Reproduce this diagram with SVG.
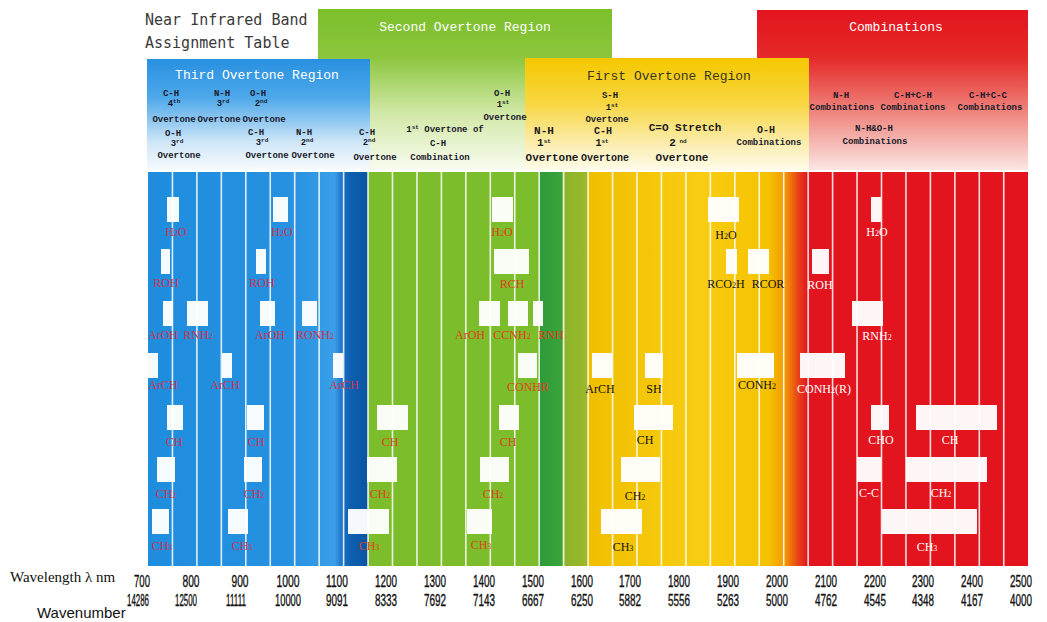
<svg xmlns="http://www.w3.org/2000/svg" width="1047" height="622" viewBox="0 0 1047 622">
<defs>
<linearGradient id="body" gradientUnits="userSpaceOnUse" x1="148" y1="0" x2="1028" y2="0">
<stop offset="0" stop-color="#1f8ddd"/>
<stop offset="0.16" stop-color="#2591e0"/>
<stop offset="0.212" stop-color="#3a9fe8"/>
<stop offset="0.2215" stop-color="#1a70c2"/>
<stop offset="0.23" stop-color="#0e5fb0"/>
<stop offset="0.249" stop-color="#0a55a4"/>
<stop offset="0.2502" stop-color="#7bbd2a"/>
<stop offset="0.4437" stop-color="#7cbd2c"/>
<stop offset="0.4455" stop-color="#2e9c3a"/>
<stop offset="0.4699" stop-color="#3aa33a"/>
<stop offset="0.4716" stop-color="#8cb32c"/>
<stop offset="0.4983" stop-color="#9ab82a"/>
<stop offset="0.5002" stop-color="#f0bf00"/>
<stop offset="0.63" stop-color="#f8cd12"/>
<stop offset="0.705" stop-color="#f5c200"/>
<stop offset="0.724" stop-color="#f29800"/>
<stop offset="0.739" stop-color="#e8421a"/>
<stop offset="0.75" stop-color="#e2141e"/>
<stop offset="1" stop-color="#e3141e"/>
</linearGradient>
<linearGradient id="gGreen" x1="0" y1="0" x2="0" y2="1">
<stop offset="0" stop-color="#7cbf2a"/>
<stop offset="0.3" stop-color="#8cc63e"/>
<stop offset="0.65" stop-color="#d2e8a8"/>
<stop offset="1" stop-color="#f8fcef"/>
</linearGradient>
<linearGradient id="gBlue" x1="0" y1="0" x2="0" y2="1">
<stop offset="0" stop-color="#2890e0"/>
<stop offset="0.35" stop-color="#4ea8ea"/>
<stop offset="0.75" stop-color="#cfe6f7"/>
<stop offset="1" stop-color="#f6fbfe"/>
</linearGradient>
<linearGradient id="gYellow" x1="0" y1="0" x2="0" y2="1">
<stop offset="0" stop-color="#f5c800"/>
<stop offset="0.4" stop-color="#f8d640"/>
<stop offset="0.8" stop-color="#fcefb8"/>
<stop offset="1" stop-color="#fffbe8"/>
</linearGradient>
<linearGradient id="gRed" x1="0" y1="0" x2="0" y2="1">
<stop offset="0" stop-color="#e3141e"/>
<stop offset="0.3" stop-color="#e52a2a"/>
<stop offset="0.62" stop-color="#ee8078"/>
<stop offset="1" stop-color="#fbe6e3"/>
</linearGradient>
</defs>
<style>
.tt{font-family:"DejaVu Sans Mono","Liberation Mono",monospace;font-size:15px;fill:#3a3a3a}
.rt{font-family:"Liberation Mono",monospace;font-size:13px;fill:#ffffff;text-anchor:middle}
.rtd{font-family:"Liberation Mono",monospace;font-size:13px;fill:#3a3520;text-anchor:middle}
.h9{font-family:"Liberation Mono",monospace;font-weight:bold;font-size:9px;fill:#1a1a2a;text-anchor:middle}
.h10{font-family:"Liberation Mono",monospace;font-weight:bold;font-size:10px;fill:#1a1a1a;text-anchor:middle}
.h11{font-family:"Liberation Mono",monospace;font-weight:bold;font-size:11px;fill:#1a1a1a;text-anchor:middle}
.sup{font-size:6px}
.bx{fill:#ffffff;opacity:0.96}
.lb{font-family:"Liberation Serif",serif;font-size:12px;text-anchor:middle}
.lb .sb{font-size:8px}
.cb{fill:#d2334f}
.cg{fill:#e0401a}
.cy{fill:#111111}
.cr{fill:#ffffff}
.grid line{stroke:#ffffff;stroke-width:1.6;opacity:0.85}
.ax{font-family:"Liberation Sans",sans-serif;font-size:16px;fill:#111;stroke:#111;stroke-width:0.35;text-anchor:middle}
.axl{font-family:"Liberation Serif",serif;font-size:15px;fill:#111}
.axw{font-family:"Liberation Sans",sans-serif;font-size:15px;fill:#111}
</style>
<rect width="1047" height="622" fill="#ffffff"/>

<!-- header boxes -->
<g id="hdr-second">
<rect x="318" y="9" width="294" height="161" fill="url(#gGreen)"/>
<text class="rt" x="465" y="31">Second Overtone Region</text>
</g>
<g id="hdr-combinations">
<rect x="757" y="10" width="271" height="160" fill="url(#gRed)"/>
<text class="rt" x="896" y="31">Combinations</text>
</g>
<g id="hdr-third">
<rect x="147" y="59" width="223" height="111" fill="url(#gBlue)"/>
<text class="rt" x="257" y="79">Third Overtone Region</text>
</g>
<g id="hdr-first">
<rect x="525" y="58" width="284" height="112" fill="url(#gYellow)"/>
<text class="rtd" x="669" y="80">First Overtone Region</text>
</g>

<g id="title">
<text class="tt" x="145" y="25">Near Infrared Band</text>
<text class="tt" x="145" y="48">Assignment Table</text>
</g>

<!-- header assignment labels -->
<g id="hdr-labels">
<text class="h9" x="171" y="96">C-H</text>
<text class="h9" x="174" y="106">4<tspan class="sup" dy="-3">th</tspan></text>
<text class="h9" x="222" y="96">N-H</text>
<text class="h9" x="223" y="106">3<tspan class="sup" dy="-3">rd</tspan></text>
<text class="h9" x="258" y="96">O-H</text>
<text class="h9" x="261" y="106">2<tspan class="sup" dy="-3">nd</tspan></text>
<text class="h9" x="174" y="122">Overtone</text>
<text class="h9" x="219" y="122">Overtone</text>
<text class="h9" x="264" y="122">Overtone</text>
<text class="h9" x="173" y="136">O-H</text>
<text class="h9" x="177" y="146">3<tspan class="sup" dy="-3">rd</tspan></text>
<text class="h9" x="179" y="158">Overtone</text>
<text class="h9" x="256" y="135">C-H</text>
<text class="h9" x="262" y="145">3<tspan class="sup" dy="-3">rd</tspan></text>
<text class="h9" x="267" y="158">Overtone</text>
<text class="h9" x="304" y="135">N-H</text>
<text class="h9" x="307" y="145">2<tspan class="sup" dy="-3">nd</tspan></text>
<text class="h9" x="313" y="158">Overtone</text>
<text class="h9" x="367" y="135">C-H</text>
<text class="h9" x="369" y="145">2<tspan class="sup" dy="-3">nd</tspan></text>
<text class="h9" x="375" y="160">Overtone</text>
<text class="h9" x="445" y="132">1<tspan class="sup" dy="-3">st</tspan><tspan dy="3"> Overtone of</tspan></text>
<text class="h9" x="438" y="146">C-H</text>
<text class="h9" x="440" y="160">Combination</text>
<text class="h9" x="502" y="96">O-H</text>
<text class="h9" x="503" y="107">1<tspan class="sup" dy="-3">st</tspan></text>
<text class="h9" x="505" y="120">Overtone</text>

<text class="h9" x="610" y="98">S-H</text>
<text class="h9" x="612" y="110">1<tspan class="sup" dy="-3">st</tspan></text>
<text class="h9" x="607" y="122">Overtone</text>
<text class="h11" x="544" y="134">N-H</text>
<text class="h11" x="544" y="146">1<tspan class="sup" dy="-3">st</tspan></text>
<text class="h11" x="552" y="161">Overtone</text>
<text class="h10" x="603" y="134">C-H</text>
<text class="h10" x="602" y="146">1<tspan class="sup" dy="-3">st</tspan></text>
<text class="h10" x="605" y="161">Overtone</text>
<text class="h11" x="685" y="131">C=O Stretch</text>
<text class="h11" x="678" y="146">2<tspan class="sup" dy="-3"> nd</tspan></text>
<text class="h11" x="682" y="161">Overtone</text>
<text class="h10" x="766" y="133">O-H</text>
<text class="h9" x="769" y="145">Combinations</text>

<text class="h9" x="841" y="98">N-H</text>
<text class="h9" x="842" y="110">Combinations</text>
<text class="h9" x="913" y="98">C-H+C-H</text>
<text class="h9" x="913" y="110">Combinations</text>
<text class="h9" x="988" y="98">C-H+C-C</text>
<text class="h9" x="990" y="110">Combinations</text>
<text class="h9" x="874" y="131">N-H&amp;O-H</text>
<text class="h9" x="875" y="144">Combinations</text>
</g>

<!-- body band -->
<rect id="band" x="148" y="172" width="880" height="394" fill="url(#body)"/>
<g id="connectors" class="grid">
<line x1="172.45" y1="172" x2="172.45" y2="566"/><line x1="196.9" y1="172" x2="196.9" y2="566"/><line x1="221.35" y1="172" x2="221.35" y2="566"/><line x1="245.8" y1="172" x2="245.8" y2="566"/><line x1="270.25" y1="172" x2="270.25" y2="566"/><line x1="294.7" y1="172" x2="294.7" y2="566"/><line x1="319.15" y1="172" x2="319.15" y2="566"/><line x1="343.6" y1="172" x2="343.6" y2="566"/><line x1="368.05" y1="172" x2="368.05" y2="566"/><line x1="392.5" y1="172" x2="392.5" y2="566"/><line x1="416.95" y1="172" x2="416.95" y2="566"/><line x1="441.4" y1="172" x2="441.4" y2="566"/><line x1="465.85" y1="172" x2="465.85" y2="566"/><line x1="490.3" y1="172" x2="490.3" y2="566"/><line x1="514.75" y1="172" x2="514.75" y2="566"/><line x1="539.2" y1="172" x2="539.2" y2="566"/><line x1="563.65" y1="172" x2="563.65" y2="566"/><line x1="588.1" y1="172" x2="588.1" y2="566"/><line x1="612.55" y1="172" x2="612.55" y2="566"/><line x1="637" y1="172" x2="637" y2="566"/><line x1="661.45" y1="172" x2="661.45" y2="566"/><line x1="685.9" y1="172" x2="685.9" y2="566"/><line x1="710.35" y1="172" x2="710.35" y2="566"/><line x1="734.8" y1="172" x2="734.8" y2="566"/><line x1="759.25" y1="172" x2="759.25" y2="566"/><line x1="783.7" y1="172" x2="783.7" y2="566"/><line x1="808.15" y1="172" x2="808.15" y2="566"/><line x1="832.6" y1="172" x2="832.6" y2="566"/><line x1="857.05" y1="172" x2="857.05" y2="566"/><line x1="881.5" y1="172" x2="881.5" y2="566"/><line x1="905.95" y1="172" x2="905.95" y2="566"/><line x1="930.4" y1="172" x2="930.4" y2="566"/><line x1="954.85" y1="172" x2="954.85" y2="566"/><line x1="979.3" y1="172" x2="979.3" y2="566"/><line x1="1003.75" y1="172" x2="1003.75" y2="566"/>
</g>

<!-- blue region nodes -->
<g id="b-h2o-1"><rect class="bx" x="167" y="197" width="12" height="25"/><text class="lb cb" x="176" y="236">H<tspan class="sb">2</tspan>O</text></g>
<g id="b-h2o-2"><rect class="bx" x="273" y="197" width="15" height="25"/><text class="lb cb" x="282" y="236">H<tspan class="sb">2</tspan>O</text></g>
<g id="b-roh-1"><rect class="bx" x="161" y="249" width="9" height="25"/><text class="lb cb" x="166" y="287">ROH</text></g>
<g id="b-roh-2"><rect class="bx" x="256" y="249" width="10" height="25"/><text class="lb cb" x="262" y="287">ROH</text></g>
<g id="b-aroh-1"><rect class="bx" x="163" y="301" width="10" height="25"/><text class="lb cb" x="163" y="339">ArOH</text></g>
<g id="b-rnh2"><rect class="bx" x="187" y="301" width="21" height="25"/><text class="lb cb" x="198" y="339">RNH<tspan class="sb">2</tspan></text></g>
<g id="b-aroh-2"><rect class="bx" x="260" y="301" width="15" height="25"/><text class="lb cb" x="270" y="339">ArOH</text></g>
<g id="b-ronh2"><rect class="bx" x="302" y="301" width="15" height="25"/><text class="lb cb" x="315" y="339">RONH<tspan class="sb">2</tspan></text></g>
<g id="b-arch-1"><rect class="bx" x="148" y="353" width="10" height="25"/><text class="lb cb" x="163" y="389">ArCH</text></g>
<g id="b-arch-2"><rect class="bx" x="222" y="353" width="10" height="25"/><text class="lb cb" x="225" y="389">ArCH</text></g>
<g id="b-arch-3"><rect class="bx" x="333" y="353" width="10" height="25"/><text class="lb cb" x="344" y="389">ArCH</text></g>
<g id="b-ch-1"><rect class="bx" x="167" y="405" width="16" height="25"/><text class="lb cb" x="174" y="446">CH</text></g>
<g id="b-ch-2"><rect class="bx" x="247" y="405" width="17" height="25"/><text class="lb cb" x="256" y="446">CH</text></g>
<g id="b-ch2-1"><rect class="bx" x="157" y="457" width="18" height="25"/><text class="lb cb" x="166" y="498">CH<tspan class="sb">2</tspan></text></g>
<g id="b-ch2-2"><rect class="bx" x="244" y="457" width="18" height="25"/><text class="lb cb" x="254" y="498">CH<tspan class="sb">2</tspan></text></g>
<g id="b-ch3-1"><rect class="bx" x="152" y="509" width="17" height="25"/><text class="lb cb" x="162" y="550">CH<tspan class="sb">3</tspan></text></g>
<g id="b-ch3-2"><rect class="bx" x="228" y="509" width="20" height="25"/><text class="lb cb" x="242" y="550">CH<tspan class="sb">3</tspan></text></g>

<!-- green region nodes -->
<g id="g-ch3-1"><rect class="bx" x="348" y="509" width="41" height="25"/><text class="lb cg" x="369" y="550">CH<tspan class="sb">3</tspan></text></g>
<g id="g-ch2-1"><rect class="bx" x="367" y="457" width="30" height="25"/><text class="lb cg" x="380" y="498">CH<tspan class="sb">2</tspan></text></g>
<g id="g-ch-1"><rect class="bx" x="377" y="405" width="31" height="25"/><text class="lb cg" x="390" y="446">CH</text></g>
<g id="g-h2o"><rect class="bx" x="492" y="197" width="21" height="25"/><text class="lb cg" x="502" y="236">H<tspan class="sb">2</tspan>O</text></g>
<g id="g-rch"><rect class="bx" x="494" y="249" width="35" height="25"/><text class="lb cg" x="512" y="288">RCH</text></g>
<g id="g-aroh"><rect class="bx" x="479" y="301" width="21" height="25"/><text class="lb cg" x="470" y="339">ArOH</text></g>
<g id="g-ccnh2"><rect class="bx" x="508" y="301" width="20" height="25"/><text class="lb cg" x="512" y="339">CCNH<tspan class="sb">2</tspan></text></g>
<g id="g-rnh"><rect class="bx" x="533" y="301" width="10" height="25"/><text class="lb cg" x="551" y="339">RNH</text></g>
<g id="g-conhr"><rect class="bx" x="518" y="353" width="19" height="25"/><text class="lb cg" x="528" y="391">CONHR</text></g>
<g id="g-ch-2"><rect class="bx" x="499" y="405" width="20" height="25"/><text class="lb cg" x="508" y="446">CH</text></g>
<g id="g-ch2-2"><rect class="bx" x="480" y="457" width="29" height="25"/><text class="lb cg" x="493" y="498">CH<tspan class="sb">2</tspan></text></g>
<g id="g-ch3-2"><rect class="bx" x="467" y="509" width="25" height="25"/><text class="lb cg" x="481" y="549">CH<tspan class="sb">3</tspan></text></g>

<!-- yellow region nodes -->
<g id="y-h2o"><rect class="bx" x="708" y="197" width="31" height="25"/><text class="lb cy" x="726" y="239">H<tspan class="sb">2</tspan>O</text></g>
<g id="y-rco2h"><rect class="bx" x="726" y="249" width="11" height="25"/><text class="lb cy" x="726" y="288">RCO<tspan class="sb">2</tspan>H</text></g>
<g id="y-rcor"><rect class="bx" x="748" y="249" width="21" height="25"/><text class="lb cy" x="768" y="288">RCOR</text></g>
<g id="y-arch"><rect class="bx" x="592" y="353" width="20" height="25"/><text class="lb cy" x="600" y="393">ArCH</text></g>
<g id="y-sh"><rect class="bx" x="645" y="353" width="18" height="25"/><text class="lb cy" x="654" y="393">SH</text></g>
<g id="y-conh2"><rect class="bx" x="737" y="353" width="37" height="25"/><text class="lb cy" x="757" y="389">CONH<tspan class="sb">2</tspan></text></g>
<g id="y-ch"><rect class="bx" x="634" y="405" width="39" height="25"/><text class="lb cy" x="645" y="444">CH</text></g>
<g id="y-ch2"><rect class="bx" x="621" y="457" width="39" height="25"/><text class="lb cy" x="635" y="500">CH<tspan class="sb">2</tspan></text></g>
<g id="y-ch3"><rect class="bx" x="601" y="509" width="41" height="25"/><text class="lb cy" x="623" y="551">CH<tspan class="sb">3</tspan></text></g>

<!-- red region nodes -->
<g id="r-h2o"><rect class="bx" x="871" y="197" width="10" height="25"/><text class="lb cr" x="877" y="236">H<tspan class="sb">2</tspan>O</text></g>
<g id="r-roh"><rect class="bx" x="812" y="249" width="17" height="25"/><text class="lb cr" x="820" y="289">ROH</text></g>
<g id="r-rnh2"><rect class="bx" x="852" y="301" width="31" height="25"/><text class="lb cr" x="877" y="340">RNH<tspan class="sb">2</tspan></text></g>
<g id="r-conh2r"><rect class="bx" x="800" y="353" width="45" height="25"/><text class="lb cr" x="824" y="393">CONH<tspan class="sb">2</tspan>(R)</text></g>
<g id="r-cho"><rect class="bx" x="871" y="405" width="18" height="25"/><text class="lb cr" x="881" y="444">CHO</text></g>
<g id="r-ch"><rect class="bx" x="916" y="405" width="81" height="25"/><text class="lb cr" x="950" y="444">CH</text></g>
<g id="r-cc"><rect class="bx" x="857" y="457" width="24" height="25"/><text class="lb cr" x="869" y="497">C-C</text></g>
<g id="r-ch2"><rect class="bx" x="906" y="457" width="81" height="25"/><text class="lb cr" x="941" y="497">CH<tspan class="sb">2</tspan></text></g>
<g id="r-ch3"><rect class="bx" x="882" y="509" width="95" height="25"/><text class="lb cr" x="927" y="551">CH<tspan class="sb">3</tspan></text></g>

<!-- axis -->
<g id="axis">
<text class="axl" x="10" y="582">Wavelength  λ nm</text>
<text class="axw" x="37" y="618">Wavenumber</text>
<g class="ax">
<text x="142" y="587" textLength="16" lengthAdjust="spacingAndGlyphs">700</text>
<text x="191" y="587" textLength="17" lengthAdjust="spacingAndGlyphs">800</text>
<text x="240" y="587" textLength="17" lengthAdjust="spacingAndGlyphs">900</text>
<text x="288" y="587" textLength="23" lengthAdjust="spacingAndGlyphs">1000</text>
<text x="337" y="587" textLength="22" lengthAdjust="spacingAndGlyphs">1100</text>
<text x="386" y="587" textLength="22" lengthAdjust="spacingAndGlyphs">1200</text>
<text x="435" y="587" textLength="22" lengthAdjust="spacingAndGlyphs">1300</text>
<text x="484" y="587" textLength="22" lengthAdjust="spacingAndGlyphs">1400</text>
<text x="533" y="587" textLength="22" lengthAdjust="spacingAndGlyphs">1500</text>
<text x="582" y="587" textLength="22" lengthAdjust="spacingAndGlyphs">1600</text>
<text x="630" y="587" textLength="22" lengthAdjust="spacingAndGlyphs">1700</text>
<text x="679" y="587" textLength="22" lengthAdjust="spacingAndGlyphs">1800</text>
<text x="728" y="587" textLength="22" lengthAdjust="spacingAndGlyphs">1900</text>
<text x="777" y="587" textLength="22" lengthAdjust="spacingAndGlyphs">2000</text>
<text x="826" y="587" textLength="22" lengthAdjust="spacingAndGlyphs">2100</text>
<text x="875" y="587" textLength="22" lengthAdjust="spacingAndGlyphs">2200</text>
<text x="923" y="587" textLength="22" lengthAdjust="spacingAndGlyphs">2300</text>
<text x="972" y="587" textLength="22" lengthAdjust="spacingAndGlyphs">2400</text>
<text x="1021" y="587" textLength="22" lengthAdjust="spacingAndGlyphs">2500</text>
<text x="138" y="606" textLength="22" lengthAdjust="spacingAndGlyphs">14286</text>
<text x="186" y="606" textLength="22" lengthAdjust="spacingAndGlyphs">12500</text>
<text x="236" y="606" textLength="20" lengthAdjust="spacingAndGlyphs">11111</text>
<text x="288" y="606" textLength="26" lengthAdjust="spacingAndGlyphs">10000</text>
<text x="337" y="606" textLength="22" lengthAdjust="spacingAndGlyphs">9091</text>
<text x="386" y="606" textLength="22" lengthAdjust="spacingAndGlyphs">8333</text>
<text x="435" y="606" textLength="22" lengthAdjust="spacingAndGlyphs">7692</text>
<text x="484" y="606" textLength="22" lengthAdjust="spacingAndGlyphs">7143</text>
<text x="533" y="606" textLength="22" lengthAdjust="spacingAndGlyphs">6667</text>
<text x="582" y="606" textLength="22" lengthAdjust="spacingAndGlyphs">6250</text>
<text x="630" y="606" textLength="22" lengthAdjust="spacingAndGlyphs">5882</text>
<text x="679" y="606" textLength="22" lengthAdjust="spacingAndGlyphs">5556</text>
<text x="728" y="606" textLength="22" lengthAdjust="spacingAndGlyphs">5263</text>
<text x="777" y="606" textLength="22" lengthAdjust="spacingAndGlyphs">5000</text>
<text x="826" y="606" textLength="22" lengthAdjust="spacingAndGlyphs">4762</text>
<text x="875" y="606" textLength="22" lengthAdjust="spacingAndGlyphs">4545</text>
<text x="923" y="606" textLength="22" lengthAdjust="spacingAndGlyphs">4348</text>
<text x="972" y="606" textLength="22" lengthAdjust="spacingAndGlyphs">4167</text>
<text x="1021" y="606" textLength="22" lengthAdjust="spacingAndGlyphs">4000</text>
</g>
</g>
</svg>
